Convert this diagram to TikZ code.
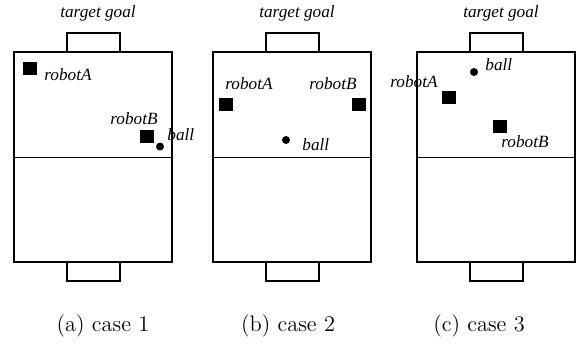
\documentclass[tikz,border=0pt]{standalone}
\usepackage{fontspec}
\newfontfamily\labelfont{Liberation Serif}
\tikzset{
  lbl/.style={font=\labelfont\itshape\fontsize{8.6}{10}\selectfont, inner sep=0pt, anchor=base west},
  capt/.style={font=\fontsize{11.2}{13.6}\selectfont, inner sep=0pt, anchor=base},
  robotbox/.style={fill=black, minimum width=7pt, minimum height=6.5pt, inner sep=0pt},
  balldot/.style={circle, fill=black, minimum size=4pt, inner sep=0pt}
}
\begin{document}
\begin{tikzpicture}[x=0.5pt, y=-0.5pt, line cap=butt, line join=miter]
    \useasboundingbox (0,0) rectangle (578,344);
    % --- フィールドとゴール ---
    \foreach \x/\c in {14/a, 213/b, 417/c}{
        \draw[line width=0.75pt] (\x+53,33) rectangle ++(53,19);
        \draw[line width=0.75pt] (\x+53,262) rectangle ++(53,19);
        \draw[line width=1pt, fill=white] (\x,52) rectangle ++(158,210);
        \draw[line width=0.5pt] (\x,157) -- ++(158,0);
        \node[lbl, anchor=base] (goal\c) at (\x+84,17) {target goal};
    }
    % --- (a) case 1 ---
    \node[robotbox] (robotAa) at (30,68.5) {};
    \node[lbl] (labAa) at (44,80) {robotA};
    \node[robotbox] (robotBa) at (147,136) {};
    \node[lbl] (labBa) at (110,124) {robotB};
    \node[balldot] (balla) at (160,146.5) {};
    \node[lbl] (labba) at (167,140) {ball};
    % --- (b) case 2 ---
    \node[robotbox] (robotAb) at (226,104.5) {};
    \node[lbl] (labAb) at (225,89) {robotA};
    \node[robotbox] (robotBb) at (359,104.5) {};
    \node[lbl] (labBb) at (309,89) {robotB};
    \node[balldot] (ballb) at (286,140) {};
    \node[lbl] (labbb) at (302,150) {ball};
    % --- (c) case 3 ---
    \node[robotbox] (robotAc) at (449,97.5) {};
    \node[lbl] (labAc) at (390,87) {robotA};
    \node[robotbox] (robotBc) at (500,126.5) {};
    \node[lbl] (labBc) at (501,147) {robotB};
    \node[balldot] (ballc) at (474,72) {};
    \node[lbl] (labbc) at (485,70.5) {ball};
    % --- キャプション ---
    \node[capt] (capa) at (103,331) {(a) case 1};
    \node[capt] (capb) at (288,331) {(b) case 2};
    \node[capt] (capc) at (479,331) {(c) case 3};
\end{tikzpicture}
\end{document}
